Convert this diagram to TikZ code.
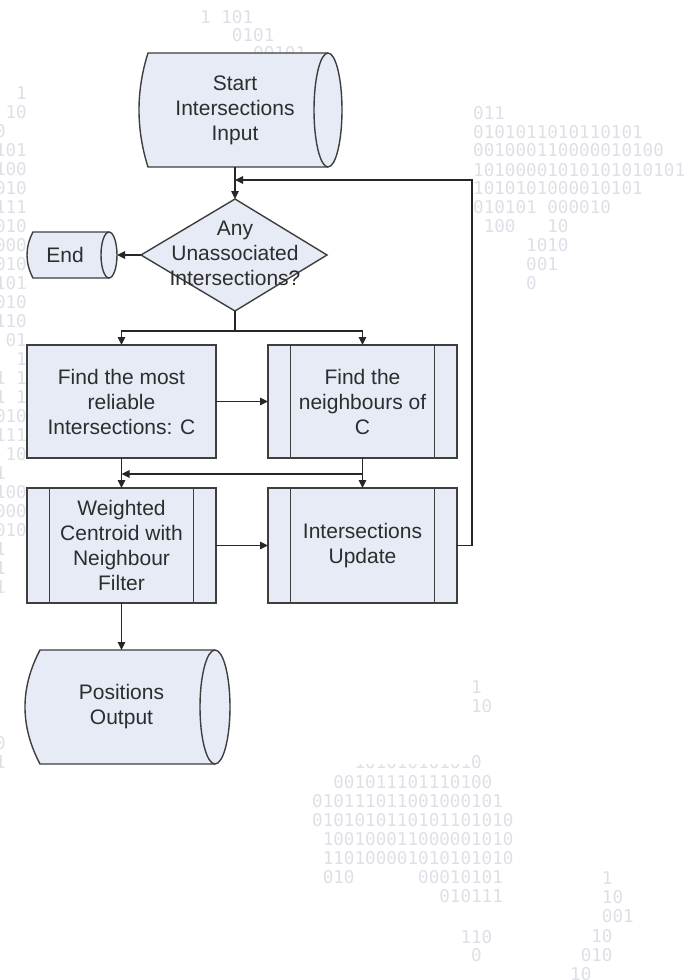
\documentclass[tikz,border=0pt]{standalone}
\usepackage{fontspec}
\setmainfont{Liberation Sans}
\newfontfamily\bitsfont{DejaVu Sans Mono}
\usetikzlibrary{arrows.meta}
\definecolor{boxfill}{RGB}{230,235,246}
\definecolor{boxline}{RGB}{62,62,62}
\definecolor{bitgray}{RGB}{222,224,232}
\definecolor{inktext}{RGB}{45,45,45}
\newcommand\zz{\hphantom{0}}
\begin{document}
\begin{tikzpicture}[x=1pt,y=1pt,
  bits/.style={anchor=base west, inner sep=0pt, text=bitgray,
    font=\bitsfont\fontsize{17.6}{19}\selectfont},
  label/.style={align=center, inner sep=0pt, outer sep=0pt, text=inktext,
    font=\fontsize{21}{25}\selectfont},
  proc/.style={label, draw=boxline, fill=boxfill, line width=1.4pt,
    minimum width=189pt, minimum height=113pt},
  shapeline/.style={draw=boxline, line width=1.4pt},
  link/.style={draw=black!85, line width=1.3pt},
  arr/.style={link, -{Triangle[length=8pt,width=7.5pt]}}]

\useasboundingbox (0,0) rectangle (692,-980);
\fill[white] (0,0) rectangle (692,-980);

% ---- faint binary digits in the background ----
\foreach \yy/\tx [count=\k] in {17/1\zz101, 35/\zz\zz\zz0101, 53/\zz\zz\zz\zz\zz00101}
  {\node[bits] (bitsA\k) at (200,-\yy-6) {\tx};}
\foreach \yy/\tx [count=\k] in {93/\zz\zz1, 112/\zz10, 131/0, 150/101, 169/100, 188/010,
    207/111, 226/010, 245/000, 264/010, 283/101, 302/010, 321/110, 340/\zz01,
    359/\zz\zz1, 378/1\zz1, 397/1\zz1, 416/010, 435/111, 454/\zz10, 473/1,
    492/100, 511/000, 530/010, 549/1, 568/1, 587/1, 743/0, 762/1}
  {\node[bits] (bitsB\k) at (-5.2,-\yy-6) {\tx};}
\foreach \yy/\tx [count=\k] in {113/011, 132/0101011010110101, 150/001000110000010100,
    170/10100001010101010101, 188/1010101000010101, 207/010101\zz000010,
    226/\zz100\zz\zz\zz10, 245/\zz\zz\zz\zz\zz1010, 264/\zz\zz\zz\zz\zz001,
    283/\zz\zz\zz\zz\zz0}
  {\node[bits] (bitsC\k) at (473,-\yy-6) {\tx};}
\foreach \yy/\tx [count=\k] in {687/\zz\zz\zz\zz\zz\zz\zz\zz\zz\zz\zz\zz\zz\zz\zz1,
    706/\zz\zz\zz\zz\zz\zz\zz\zz\zz\zz\zz\zz\zz\zz\zz10,
    762/\zz\zz\zz\zz101010101010,
    782/\zz\zz001011101110100, 801/010111011001000101, 820/0101010110101101010,
    839/\zz100100011000001010, 858/\zz110100001010101010,
    877/\zz010\zz\zz\zz\zz\zz\zz00010101,
    896/\zz\zz\zz\zz\zz\zz\zz\zz\zz\zz\zz\zz010111,
    937/\zz\zz\zz\zz\zz\zz\zz\zz\zz\zz\zz\zz\zz\zz110,
    955/\zz\zz\zz\zz\zz\zz\zz\zz\zz\zz\zz\zz\zz\zz\zz0}
  {\node[bits] (bitsD\k) at (312,-\yy-6) {\tx};}
\foreach \yy/\tx [count=\k] in {878/\zz\zz\zz1, 897/\zz\zz\zz10, 916/\zz\zz\zz001,
    936/\zz\zz10, 955/\zz010, 974/10}
  {\node[bits] (bitsE\k) at (570,-\yy-6) {\tx};}
% the upper part of one row is hidden
\fill[white] (350,-746) rectangle (468,-764);

% ---- start: stored data ----
\filldraw[shapeline, fill=boxfill] (148,-53) -- (328,-53)
  arc[start angle=90, end angle=-90, x radius=14, y radius=57]
  -- (148,-167) .. controls (136,-129) and (136,-91) .. cycle;
\draw[shapeline] (328,-53) arc[start angle=90, end angle=270, x radius=14, y radius=57];
\node[label, minimum width=170pt, minimum height=114pt] (start) at (235,-110)
  {Start\\Intersections\\Input};

% ---- decision ----
\filldraw[shapeline, fill=boxfill] (235,-199) coordinate (decN) -- (327,-255) coordinate (decE)
  -- (235,-311) coordinate (decS) -- (141,-255) coordinate (decW) -- cycle;
\node[label] (dec) at (235,-253) {Any\\Unassociated\\Intersections?};

% ---- end ----
\filldraw[shapeline, fill=boxfill] (33,-232) -- (109,-232)
  arc[start angle=90, end angle=-90, x radius=8, y radius=23]
  -- (33,-278) .. controls (25,-263) and (25,-247) .. cycle;
\draw[shapeline] (109,-232) arc[start angle=90, end angle=270, x radius=8, y radius=23];
\node[label, minimum width=104pt, minimum height=46pt] (endn) at (65,-255) {End};

% ---- process boxes ----
\node[proc] (b1) at (121.5,-401.5) {Find the most\\reliable\\Intersections: C};
\node[proc] (b2) at (362.5,-401.5) {Find the\\neighbours of\\C};
\node[proc, minimum height=115pt] (b3) at (121.5,-545.5) {Weighted\\Centroid with\\Neighbour\\Filter};
\node[proc, minimum height=115pt] (b4) at (362.5,-545.5) {Intersections\\Update};
\foreach \n in {b2,b3,b4}{
  \draw[shapeline] ([xshift=22.5pt]\n.north west) -- ([xshift=22.5pt]\n.south west);
  \draw[shapeline] ([xshift=-22.5pt]\n.north east) -- ([xshift=-22.5pt]\n.south east);
}

% ---- output: stored data ----
\filldraw[shapeline, fill=boxfill] (40,-650) -- (215,-650)
  arc[start angle=90, end angle=-90, x radius=15, y radius=57]
  -- (40,-764) .. controls (20,-726) and (20,-688) .. cycle;
\draw[shapeline] (215,-650) arc[start angle=90, end angle=270, x radius=15, y radius=57];
\node[label, minimum width=160pt, minimum height=114pt] (out) at (121.5,-707)
  {Positions\\Output};

% ---- connectors ----
\draw[arr] (start.south) -- (decN);
\draw[arr] (decW) -- (endn.east);
\coordinate (fork) at (235,-331);
\draw[link] (decS) -- (fork);
\draw[arr] (fork) -| (b1.north);
\draw[arr] (fork) -| (b2.north);
\draw[arr] (b1.east) -- (b2.west);
\draw[arr] (b1.south) -- (b3.north);
\draw[arr] (b2.south) -- (b4.north);
\coordinate (join) at (362.5,-474);
\draw[arr] (join) -- (join -| b1.south);
\draw[arr] (b3.east) -- (b4.west);
\coordinate (loopR) at (472,-180);
\draw[arr] (b4.east) -| (loopR) -- (loopR -| decN);
\draw[arr] (b3.south) -- (out.north);
\end{tikzpicture}
\end{document}
